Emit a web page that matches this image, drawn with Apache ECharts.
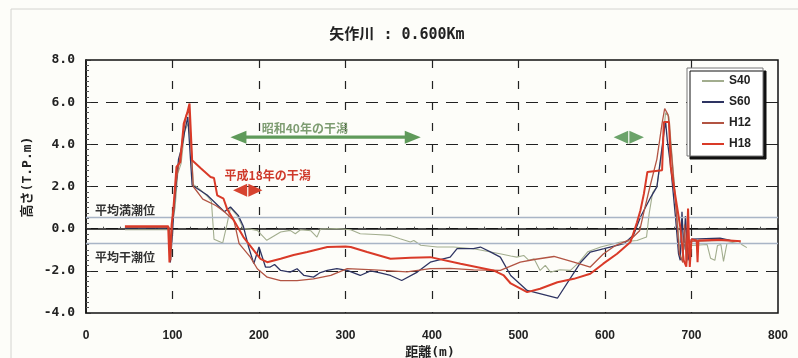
<!DOCTYPE html>
<html>
<head>
<meta charset="utf-8">
<script src="https://cdn.jsdelivr.net/npm/echarts@6/dist/echarts.min.js"></script>
<style>
  html, body { margin: 0; padding: 0; background: #fdfdf9; }
  #chart { width: 798px; height: 358px; }
</style>
</head>
<body>
<div id="chart"></div>
<script>
// Cross-section survey of the Yahagi River at 0.600 km: distance (m) vs. height (T.P. m)
const seriesNames = ['S40', 'S60', 'H12', 'H18'];

const s40Dist = [45, 96, 98, 100, 103, 106, 110, 114, 118, 121, 124, 132, 140, 145, 148, 158, 163, 167, 175, 182, 190, 198, 209, 225, 236, 242, 248, 260, 267, 271, 290, 306, 317, 335, 352, 363, 375, 379, 387, 406, 425, 448, 468, 480, 491, 498, 506, 512, 518, 525, 531, 537, 548, 560, 570, 580, 595, 618, 637, 648, 651, 655, 660, 666, 670, 674, 678, 683, 687, 689, 692, 695, 700, 718, 722, 727, 730, 734, 737, 741, 755, 758, 764];
const s40Height = [-0.05, -0.05, -0.9, 0.3, 1.0, 2.6, 3.1, 4.6, 5.0, 4.2, 2.1, 1.85, 1.55, 1.3, -0.5, -0.68, 0.2, 1.0, 0.6, 0.0, -0.02, -0.08, -0.55, -0.16, -0.08, -0.24, -0.05, -0.1, -0.4, -0.02, 0.0, -0.05, -0.24, -0.28, -0.32, -0.48, -0.63, -0.56, -0.79, -0.87, -0.87, -0.95, -1.11, -1.2, -1.3, -1.35, -1.27, -1.5, -1.43, -1.98, -1.74, -2.06, -1.95, -1.98, -1.6, -1.1, -0.87, -0.63, -0.56, -0.4, 0.7, 1.7, 2.0, 3.7, 5.5, 5.3, 3.2, 0.7, -1.2, -1.5, -0.6, -1.3, -0.8, -0.75, -1.4, -1.5, -0.8, -0.75, -1.55, -0.7, -0.6, -0.75, -0.9];

const s60Dist = [45, 96, 97.5, 100, 101.5, 104, 107, 111, 114, 117.7, 122.7, 140, 160, 167, 176, 182, 188, 194, 200, 207.5, 213, 218, 225, 236, 244, 252, 263, 270, 279, 290, 302, 317, 329, 340, 352, 365, 383, 398, 421, 429, 448, 456, 468, 479, 491, 510, 545, 572, 583, 599, 622, 633, 641, 653, 660, 668, 670, 672, 676, 681.5, 685, 687, 689, 691, 693, 696, 700, 733, 745];
const s60Height = [0.03, 0.03, -1.6, -0.2, 0.87, 2.0, 3.3, 3.9, 4.6, 5.3, 2.06, 1.6, 0.8, 1.03, 0.63, 0.1, -0.87, -1.66, -0.87, -1.82, -1.82, -1.7, -1.98, -2.06, -1.9, -2.22, -2.3, -2.1, -1.98, -1.9, -1.98, -2.22, -2.0, -2.1, -2.22, -2.46, -2.06, -1.59, -1.35, -0.95, -0.95, -0.87, -1.11, -1.35, -2.22, -2.93, -3.3, -1.59, -1.11, -0.95, -0.71, -0.3, 0.55, 1.5, 1.98, 4.5, 5.1, 4.2, 2.93, 0.55, -1.19, -1.5, 0.8, -1.0, 0.6, -1.5, -0.5, -0.45, -0.55];

const h12Dist = [45, 96, 98, 100, 104, 108, 112, 116, 119, 121, 124, 135, 150, 160, 171, 177, 190, 198, 209.5, 225, 244, 263, 283, 302, 333, 371, 398, 421, 448, 479, 502, 520, 541, 564, 583, 598, 612, 630, 640, 645, 652, 660, 666, 669, 673, 677, 682, 686, 690, 692, 694, 698, 740, 750];
const h12Height = [0.06, 0.06, -1.5, 0.5, 2.2, 3.2, 4.4, 5.4, 5.6, 4.4, 2.0, 1.4, 1.1, 0.8, 0.39, -0.71, -1.35, -1.9, -2.3, -2.46, -2.46, -2.38, -2.22, -1.9, -1.95, -2.05, -1.9, -1.88, -1.95, -1.98, -1.59, -1.45, -1.32, -1.59, -1.82, -1.2, -0.8, -0.5, -0.1, 0.8, 2.0, 3.3, 5.0, 5.7, 5.4, 3.5, 1.0, -1.2, -1.6, 0.2, -1.7, -0.6, -0.55, -0.6];

const h18Dist = [45, 95, 96.5, 99, 101, 104.6, 109, 113, 117, 119.7, 122.7, 133, 144, 148, 151.7, 159, 163, 171, 182, 194, 201.7, 209.5, 225, 240, 255.7, 279, 300, 306, 325, 352, 375, 398, 433, 471, 483, 491, 510, 525, 545, 564, 583, 598, 614, 629.5, 637, 641, 645, 649, 666, 668, 674, 676, 687, 691, 694, 696, 698, 700, 706, 707, 708, 731, 757];
const h18Height = [0.12, 0.12, -1.6, 0.2, 0.9, 2.93, 3.16, 4.99, 5.49, 5.94, 3.24, 2.85, 2.45, 2.4, 1.58, 1.42, 0.95, 0.39, -0.4, -1.03, -1.43, -1.59, -1.43, -1.25, -1.11, -0.87, -0.85, -0.87, -1.11, -1.43, -1.38, -1.35, -1.66, -1.98, -2.22, -2.6, -3.01, -2.85, -2.54, -2.38, -2.14, -1.66, -1.19, -0.63, 0.3, 0.87, 1.66, 2.69, 2.77, 5.06, 5.06, 2.93, 0.08, -1.5, -1.8, 0.95, -1.82, -0.5, -0.56, -1.59, -0.56, -0.52, -0.6];

// Mean high / low water levels (T.P. m)
const meanHighWater = 0.55;
const meanLowWater = -0.71;

// Tidal-flat extents (distance m) and the height at which their arrows sit
const showa40Span = [167, 387];
const showa40SpanRight = [610, 645];
const showa40Level = 4.34;
const heisei18Span = [170, 204];
const heisei18Level = 1.82;
const showa40LabelAt = [253, 4.76];
const heisei18LabelAt = [210, 2.53];

const zip = (xs, ys) => xs.map((x, i) => [x, ys[i]]);

const CJK = "'Noto Sans CJK JP', sans-serif";
const MONO_CJK = "'DejaVu Sans Mono', 'Noto Sans CJK JP', monospace";
const GREEN = '#5f9a5a';
const GREEN_TEXT = '#7e9d72';
const RED = '#d6432f';

const annotations = [
  { span: showa40Span, level: showa40Level, kind: 'arrow', color: GREEN,
    text: '昭和40年の干潟', textAt: showa40LabelAt, textColor: GREEN_TEXT },
  { span: showa40SpanRight, level: showa40Level, kind: 'diamond', color: '#6ba36a' },
  { span: heisei18Span, level: heisei18Level, kind: 'diamond', color: RED,
    text: '平成18年の干潟', textAt: heisei18LabelAt, textColor: '#cf3a2b' }
];

const lineSeries = [
  { name: 'S40', dist: s40Dist, h: s40Height, color: '#a2ad8e', width: 1.1 },
  { name: 'S60', dist: s60Dist, h: s60Height, color: '#2e3462', width: 1.3 },
  { name: 'H12', dist: h12Dist, h: h12Height, color: '#b25443', width: 1.3 },
  { name: 'H18', dist: h18Dist, h: h18Height, color: '#d93a28', width: 2 }
].map((s, i) => ({
  name: s.name,
  type: 'line',
  data: zip(s.dist, s.h),
  symbol: 'none',
  showSymbol: false,
  color: s.color,
  lineStyle: { color: s.color, width: s.width },
  z: 3 + i,
  markLine: i === 0 ? {
    silent: true,
    symbol: 'none',
    label: { show: false },
    lineStyle: { color: '#a9b5c6', type: 'solid', width: 1.3 },
    data: [{ yAxis: meanHighWater }, { yAxis: meanLowWater }]
  } : undefined
}));

const chart = echarts.init(document.getElementById('chart'), null, { renderer: 'canvas' });

chart.setOption({
  animation: false,
  backgroundColor: '#fdfdf9',
  grid: {
    left: 86, right: 20, top: 60, bottom: 45,
    show: true, borderColor: '#111', borderWidth: 1.5, backgroundColor: 'transparent'
  },
  legend: {
    data: seriesNames,
    orient: 'vertical',
    left: 687, top: 68,
    itemWidth: 22, itemHeight: 10, itemGap: 9,
    padding: [7, 12, 6, 14],
    backgroundColor: '#ffffff',
    borderColor: '#777', borderWidth: 1,
    shadowColor: '#111', shadowOffsetX: 3, shadowOffsetY: 3, shadowBlur: 0,
    itemStyle: { color: 'transparent', borderWidth: 0, opacity: 0 },
    textStyle: { fontWeight: 'bold', fontSize: 12, color: '#222', fontFamily: 'Liberation Sans' }
  },
  xAxis: {
    type: 'value', min: 0, max: 800, interval: 100,
    axisLine: { show: true, lineStyle: { color: '#111', width: 1.5 } },
    axisTick: { show: true, inside: true, length: 4, lineStyle: { color: '#333' } },
    minorTick: { show: true, splitNumber: 5, length: 2, lineStyle: { color: '#555' } },
    axisLabel: { fontSize: 12, fontWeight: 'bold', color: '#222', margin: 17, fontFamily: 'Liberation Sans' },
    splitLine: { show: true, showMinLine: false, showMaxLine: false,
      lineStyle: { color: '#222', width: 1.2, type: [8, 13] } }
  },
  yAxis: {
    type: 'value', min: -4, max: 8, interval: 2,
    axisLine: { show: true, lineStyle: { color: '#111', width: 1.5 } },
    axisTick: { show: true, inside: true, length: 5, lineStyle: { color: '#333' } },
    minorTick: { show: true, splitNumber: 8, length: 3, lineStyle: { color: '#555' } },
    axisLabel: { fontSize: 13, fontWeight: 'bold', color: '#222', margin: 11,
      fontFamily: 'DejaVu Sans Mono', formatter: v => v.toFixed(1) },
    splitLine: { show: true, showMinLine: false, showMaxLine: false,
      lineStyle: { color: '#222', width: 1.2, type: [12, 8] } }
  },
  graphic: [
    { type: 'rect', shape: { x: 11, y: 9, width: 820, height: 400 },
      style: { fill: 'none', stroke: '#d4d4d0', lineWidth: 1 }, silent: true, z: 0 },
    { type: 'text', x: 397, y: 35,
      style: { text: '矢作川 : 0.600Km', font: 'bold 15px ' + MONO_CJK, fill: '#222',
        align: 'center', verticalAlign: 'middle' } },
    { type: 'text', x: 28, y: 177, rotation: Math.PI / 2,
      style: { text: '高さ(T.P.m)', font: 'bold 13px ' + MONO_CJK, fill: '#222',
        align: 'center', verticalAlign: 'middle' } },
    { type: 'text', x: 430, y: 353,
      style: { text: '距離(m)', font: 'bold 13px ' + MONO_CJK, fill: '#222',
        align: 'center', verticalAlign: 'middle' } },
    { type: 'text', x: 95, y: 210, z: 10,
      style: { text: '平均満潮位', font: 'bold 12px ' + CJK, fill: '#333',
        align: 'left', verticalAlign: 'middle' } },
    { type: 'text', x: 95, y: 257, z: 10,
      style: { text: '平均干潮位', font: 'bold 12px ' + CJK, fill: '#333',
        align: 'left', verticalAlign: 'middle' } }
  ],
  series: [
    ...lineSeries,
    {
      name: 'annotations',
      type: 'custom',
      silent: true,
      clip: false,
      z: 10,
      encode: { x: [0, 1], y: 2 },
      data: annotations.map(a => [a.span[0], a.span[1], a.level]),
      renderItem(params, api) {
        const a = annotations[params.dataIndex];
        const p1 = api.coord([api.value(0), api.value(2)]);
        const p2 = api.coord([api.value(1), api.value(2)]);
        const y = p1[1], x1 = p1[0], x2 = p2[0];
        const hh = 13;
        const children = [];
        let hl;
        if (a.kind === 'arrow') {
          hl = 16;
          children.push({ type: 'rect',
            shape: { x: x1 + hl - 1, y: y - 1.6, width: x2 - x1 - 2 * hl + 2, height: 3.2 },
            style: { fill: a.color } });
        } else {
          hl = (x2 - x1) / 2 - 0.6;
        }
        children.push({ type: 'polygon',
          shape: { points: [[x1, y], [x1 + hl, y - hh / 2], [x1 + hl, y + hh / 2]] },
          style: { fill: a.color } });
        children.push({ type: 'polygon',
          shape: { points: [[x2, y], [x2 - hl, y - hh / 2], [x2 - hl, y + hh / 2]] },
          style: { fill: a.color } });
        if (a.text) {
          const t = api.coord(a.textAt);
          children.push({ type: 'text', x: t[0], y: t[1],
            style: { text: a.text, fill: a.textColor, font: 'bold 12px ' + CJK,
              align: 'center', verticalAlign: 'middle' } });
        }
        return { type: 'group', children };
      }
    }
  ]
});
</script>
</body>
</html>
